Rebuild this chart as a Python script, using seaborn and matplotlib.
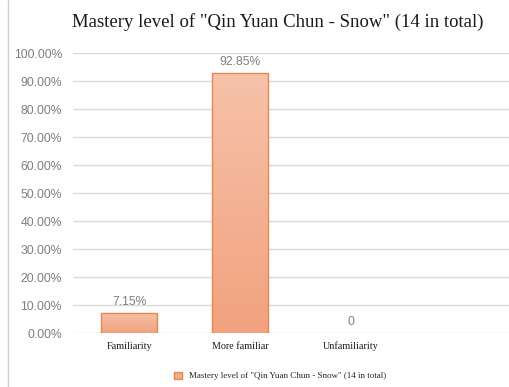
import matplotlib
matplotlib.use("Agg")
import matplotlib.pyplot as plt
import numpy as np
import seaborn as sns
from matplotlib.lines import Line2D
from matplotlib.colors import LinearSegmentedColormap

# data
categories = ["Familiarity", "More familiar", "Unfamiliarity"]
values = [7.15, 92.85, 0]
value_labels = ["7.15%", "92.85%", "0"]
yticks = [0, 10, 20, 30, 40, 50, 60, 70, 80, 90, 100]
series_name = 'Mastery level of "Qin Yuan Chun - Snow" (14 in total)'

sns.set_style("white")
plt.rcParams["font.family"] = ["Liberation Serif", "DejaVu Serif"]

fig = plt.figure(figsize=(5.1, 3.87), dpi=100)
ax = fig.add_axes([73 / 510, 1 - 333.3 / 387, 1 - 73 / 510, (333.3 - 53.3) / 387])

sns.barplot(x=categories, y=values, color="#F4AE8C", edgecolor="#E8874F",
            linewidth=1.0, width=0.505, saturation=1, label=series_name, ax=ax)

ax.set_xlim(-0.505, 3.43)
ax.set_ylim(0, 100)

# gradient fill inside bars (lighter top, more orange bottom)
grad = LinearSegmentedColormap.from_list("g", ["#F2A27F", "#F6C2A9"])
for p in ax.patches:
    if p.get_height() <= 0:
        p.set_linewidth(0)
        continue
    x0, w, h = p.get_x(), p.get_width(), p.get_height()
    im = ax.imshow(np.linspace(0, 1, 100).reshape(-1, 1), cmap=grad, origin="lower",
                   extent=[x0, x0 + w, 0, h], aspect="auto", zorder=p.get_zorder())
    im.set_clip_path(p)
    p.set_facecolor("none")
    p.set_zorder(p.get_zorder() + 0.1)
ax.set_xlim(-0.505, 3.43)
ax.set_ylim(0, 100)

ax.set_yticks(yticks)
ax.set_yticklabels([f"{v:.2f}%" for v in yticks], family="Liberation Sans",
                   color="#7F7F7F", fontsize=8.7)
ax.tick_params(axis="x", labelsize=7.3, colors="#1A1A1A", length=0, pad=6)
ax.tick_params(axis="y", length=0, pad=8)
ax.yaxis.grid(True, color="#D9D9D9", linewidth=1)
ax.set_axisbelow(True)
for s in ax.spines.values():
    s.set_visible(False)
ax.set_xlabel("")
ax.set_ylabel("")

for i, (v, lab) in enumerate(zip(values, value_labels)):
    ax.annotate(lab, (i, v), xytext=(0, 4), textcoords="offset points",
                ha="center", va="bottom", family="Liberation Sans",
                color="#7F7F7F", fontsize=8.7)

fig.text(0.545, 0.943, series_name, ha="center", va="center", fontsize=13.5,
         color="#1A1A1A")

ax.legend(loc="center", frameon=False, fontsize=6.5, handlelength=0.9,
          handleheight=0.9, borderaxespad=0)
leg = ax.get_legend()
leg.set_bbox_to_anchor((280 / 510, 1 - 376 / 387), transform=fig.transFigure)
leg.legend_handles[0].set_facecolor("#F4AE8C")

fig.add_artist(Line2D([8 / 510, 8 / 510], [0, 1], color="#D0D0D0", linewidth=1,
                      transform=fig.transFigure))

plt.savefig("out.png", dpi=100)
